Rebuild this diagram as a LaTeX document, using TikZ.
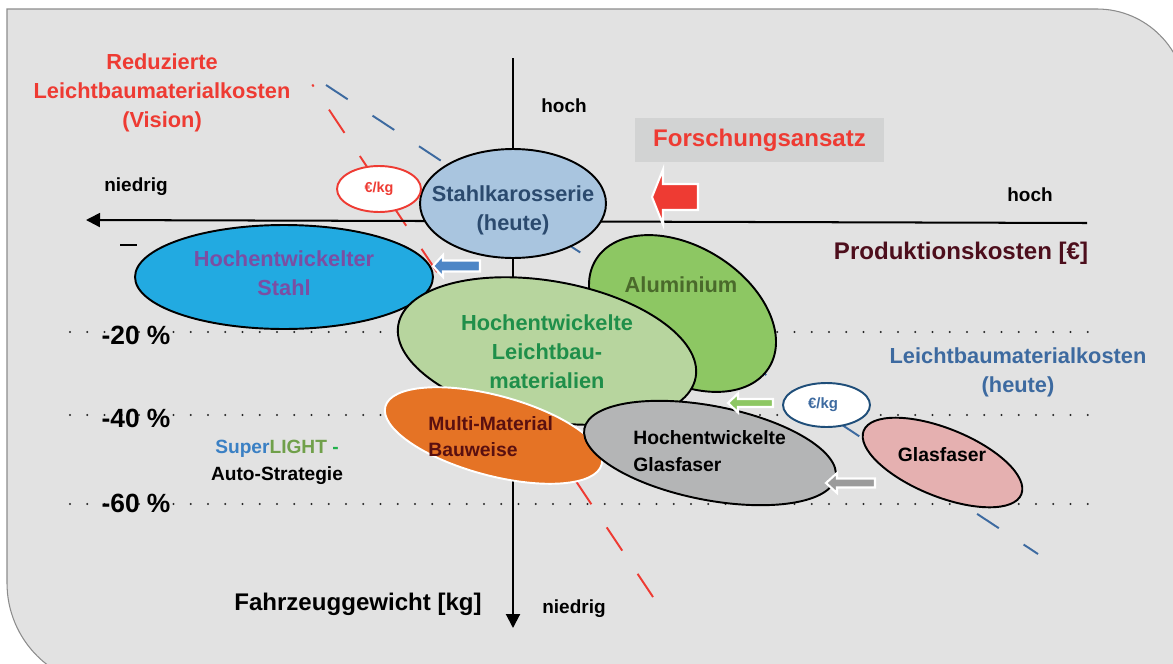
\documentclass[tikz,border=0pt]{standalone}
\usepackage{fontspec}
\setmainfont{Liberation Sans}
\usetikzlibrary{shapes.geometric, arrows.meta}

\definecolor{bggray}{HTML}{E2E2E2}
\definecolor{framegray}{HTML}{8C8C8C}
\definecolor{redtxt}{HTML}{EE3B33}
\definecolor{boxgray}{HTML}{D2D3D3}
\definecolor{maroon}{HTML}{4D0E1C}
\definecolor{costblue}{HTML}{3D6AA0}
\definecolor{stahlfill}{HTML}{A9C5DF}
\definecolor{stahltxt}{HTML}{2B4A6E}
\definecolor{hstahlfill}{HTML}{22AAE1}
\definecolor{purpletxt}{HTML}{7B4EA3}
\definecolor{alufill}{HTML}{8DC763}
\definecolor{alutxt}{HTML}{4A6A2B}
\definecolor{lbfill}{HTML}{B7D59E}
\definecolor{lbtxt}{HTML}{1F8F4A}
\definecolor{multifill}{HTML}{E57325}
\definecolor{multitxt}{HTML}{5A1010}
\definecolor{glasgray}{HTML}{B4B5B6}
\definecolor{pinkfill}{HTML}{E5B0B0}
\definecolor{arrblue}{HTML}{4D86C6}
\definecolor{arrgray}{HTML}{9B9B9B}
\definecolor{superblue}{HTML}{3A80C4}
\definecolor{lightgreen}{HTML}{70A04A}
\definecolor{dashgreen}{HTML}{22B14C}
\definecolor{eurblue}{HTML}{1F4E79}

\newcommand\setfs[2]{\fontsize{#1}{#2}\selectfont\bfseries}
% left pointing block arrow: tip, head length, head half, shaft half, shaft length, style
\newcommand\larrow[6]{\filldraw[#6] #1 -- ++(#2,-#3) -- ++(0,#3-#4) -- ++(#5,0) -- ++(0,2*#4) -- ++(-#5,0) -- ++(0,#3-#4) -- cycle;}

\begin{document}
\begin{tikzpicture}[
    x=0.02cm, y=-0.02cm,
    blob/.style={ellipse, draw=black, line width=1.1pt, inner sep=0pt, outer sep=0pt},
    txt/.style={align=center, inner sep=0pt, font=\setfs{12.4}{16.5}},
    small/.style={align=center, inner sep=0pt, font=\setfs{10.8}{14}},
    pct/.style={inner sep=0pt, font=\setfs{15}{18}},
    axis/.style={line width=1.15pt, -{Triangle[length=0.28cm, width=0.28cm]}},
    costline/.style={line width=1.1pt},
    blockarr/.style={line width=1.2pt, draw=white}
  ]
  \useasboundingbox (0,0) rectangle (1173,663);
  % background panel
  \filldraw[fill=bggray, draw=framegray, line width=0.6pt] (7,9) -- (1097,9)
    .. controls (1146,9) and (1186,49) .. (1186,98) -- (1186,686) -- (110,686)
    .. controls (53,686) and (7,640) .. (7,583) -- cycle;

  % weight levels
  \foreach \yy in {332,415,504}
    \foreach \i in {0,...,59}
      \fill[black!85] (70+17.25*\i,\yy) circle[radius=0.021cm];

  % cost lines
  \coordinate (vtop) at (312.3,84.5);
  \coordinate (vbot) at (653,597);
  \coordinate (htop) at (326,85);
  \coordinate (hbot) at (1038,554);
  \draw[costline, redtxt, dash pattern=on 0.56cm off 0.555cm, dash phase=0.512cm] (vtop) -- (vbot);
  \draw[costline, costblue, dash pattern=on 0.52cm off 0.594cm] (htop) -- (hbot);

  % axes
  \coordinate (xr) at (1087,223);
  \coordinate (xl) at (86,220);
  \coordinate (yt) at (513,58);
  \coordinate (yb) at (513,628);
  \draw[axis] (xr) -- (xl);
  \draw[axis] (yt) -- (yb);
  \draw[line width=1.1pt] (120,245) -- (137,245);

  % materials
  \node[blob, fill=hstahlfill, minimum width=5.96cm, minimum height=2.08cm] (hstahl) at (284,277) {};
  \node[blob, fill=alufill, minimum width=4.08cm, minimum height=2.68cm, rotate=-32] (alu) at (682.5,313.5) {};
  \node[blob, fill=lbfill, minimum width=6.04cm, minimum height=2.8cm, rotate=-10] (lb) at (547,351) {};
  \node[blob, draw=white, fill=multifill, minimum width=4.48cm, minimum height=1.6cm, rotate=-15] (multi) at (493.5,435.5) {};
  \node[blob, fill=glasgray, minimum width=5.12cm, minimum height=1.88cm, rotate=-11] (hglas) at (710,453) {};
  \node[blob, fill=pinkfill, minimum width=3.4cm, minimum height=1.36cm, rotate=-22] (glas) at (942.5,462.5) {};
  \node[blob, draw=eurblue, fill=white, minimum width=1.74cm, minimum height=0.88cm] (eurnow) at (826.5,405) {};
  \node[blob, fill=stahlfill, minimum width=3.72cm, minimum height=2.18cm] (stahl) at (513,203.5) {};
  \node[blob, draw=redtxt, fill=white, minimum width=1.68cm, minimum height=0.92cm] (eurvis) at (379,189) {};

  % shift arrows
  \coordinate (redtip) at (652,197);
  \coordinate (bluetip) at (433,266);
  \coordinate (greentip) at (728,403);
  \coordinate (graytip) at (826,483);
  \larrow{(redtip)}{11}{27.5}{13}{35}{blockarr, fill=redtxt}
  \larrow{(bluetip)}{10}{11}{5.5}{37}{blockarr, fill=arrblue}
  \larrow{(greentip)}{10}{9.5}{4}{35}{blockarr, fill=alufill}
  \larrow{(graytip)}{11}{10}{4.5}{38}{blockarr, fill=arrgray}

  % labels
  \node[txt, text=redtxt] (vision) at (162,92.5) {Reduzierte\\Leichtbaumaterialkosten\\(Vision)};
  \node[small] (xlow) at (136,187) {niedrig};
  \node[small] (yhigh) at (564,106) {hoch};
  \node[small] (xhigh) at (1030,195) {hoch};
  \node[small] (ylow) at (574,609) {niedrig};
  \node[fill=boxgray, minimum width=4.98cm, minimum height=0.88cm, inner sep=0pt,
    text=redtxt, font=\setfs{13.7}{16}] (forsch) at (759.5,140) {Forschungsansatz};
  \node[inner sep=0pt, text=maroon, font=\setfs{13.7}{16}] (prod) at (961,253) {Produktionskosten [€]};
  \node[inner sep=0pt, font=\setfs{13.7}{16}] (weight) at (358,604) {Fahrzeuggewicht [kg]};
  \node[txt, text=costblue] (today) at (1018,372.5) {Leichtbaumaterialkosten\\(heute)};
  \node[pct] (p20) at (136,335) {-20 \%};
  \node[pct] (p40) at (136,418) {-40 \%};
  \node[pct] (p60) at (136,503) {-60 \%};
  \node[align=center, inner sep=0pt, font=\setfs{10.9}{15.4}] (strat) at (277,462.5)
    {\textcolor{superblue}{Super}\textcolor{lightgreen}{LIGHT} \textcolor{dashgreen}{-}\\Auto-Strategie};
  \node[txt, text=stahltxt] (stahltxt) at (513,210.5) {Stahlkarosserie\\(heute)};
  \node[txt, text=purpletxt] (hstahltxt) at (284,273) {Hochentwickelter\\Stahl};
  \node[txt, text=alutxt] (alutxt) at (681,285) {Aluminium};
  \node[txt, text=lbtxt] (lbtxt) at (547,352) {Hochentwickelte\\Leichtbau-\\materialien};
  \node[align=left, anchor=west, inner sep=0pt, text=multitxt, font=\setfs{11}{15}] (multitxt) at (428,436.5) {Multi-Material\\Bauweise};
  \node[align=left, anchor=west, inner sep=0pt, font=\setfs{11}{15}] (hglastxt) at (633,451) {Hochentwickelte\\Glasfaser};
  \node[inner sep=0pt, font=\setfs{11}{14}] (glastxt) at (942,455) {Glasfaser};
  \node[inner sep=0pt, text=redtxt, font=\setfs{8.2}{10}] (eurvistxt) at (eurvis) {€/kg};
  \node[inner sep=0pt, text=costblue, font=\setfs{8.5}{10}] (eurnowtxt) at (823,405) {€/kg};
\end{tikzpicture}
\end{document}
